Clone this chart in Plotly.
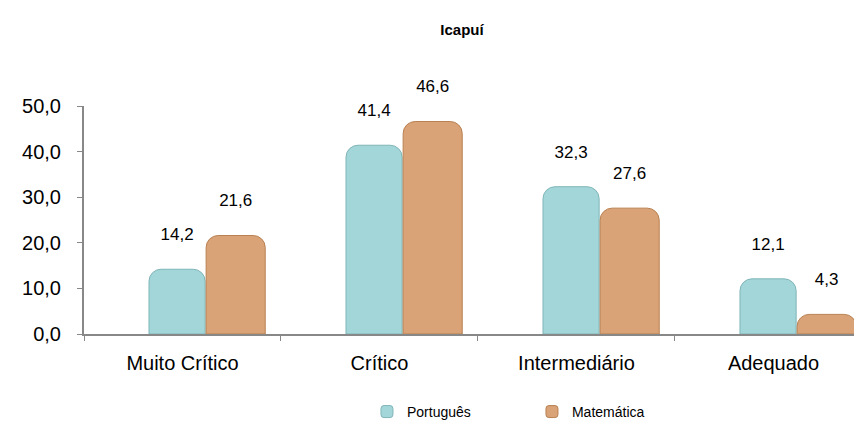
import plotly.graph_objects as go

categories = ["Muito Crítico", "Crítico", "Intermediário", "Adequado"]
portugues = [14.2, 41.4, 32.3, 12.1]
matematica = [21.6, 46.6, 27.6, 4.3]
series_names = ["Português", "Matemática"]
y_ticks = [0, 10, 20, 30, 40, 50]
title_text = "Icapuí"

FONT = "Liberation Sans, Arial, sans-serif"
BODY = 8  # default page body margin in the browser

fig = go.Figure()
fig.add_trace(go.Bar(
    x=categories, y=portugues, name=series_names[0],
    width=0.285, offset=-0.17,
    marker=dict(color="#A3D6D8", line=dict(color="#7FB5B8", width=1), cornerradius=12),
    texttemplate="%{y:.1f}<br> ", textposition="outside",
    textfont=dict(family=FONT, size=17, color="#000"),
    cliponaxis=False,
))
fig.add_trace(go.Bar(
    x=categories, y=matematica, name=series_names[1],
    width=0.30, offset=0.12,
    marker=dict(color="#D9A377", line=dict(color="#B98152", width=1), cornerradius=12),
    texttemplate="%{y:.1f}<br> ", textposition="outside",
    textfont=dict(family=FONT, size=17, color="#000"),
    cliponaxis=False,
))

fig.update_layout(
    width=862, height=428,
    margin=dict(l=84 - BODY, r=0, t=106 - BODY, b=94 + BODY),
    paper_bgcolor="white", plot_bgcolor="white",
    separators=",.",
    barmode="overlay",
    showlegend=True,
    title=dict(text="<b>" + title_text + "</b>", x=(462 - BODY) / 862, xanchor="center",
               y=1 - (30 - BODY) / 428, yanchor="middle",
               font=dict(family=FONT, size=15, color="#000")),
    font=dict(family=FONT, color="#000"),
    legend=dict(orientation="h", x=0.36, xanchor="left", y=-0.342, yanchor="middle",
                font=dict(family=FONT, size=14, color="#000"), entrywidth=120,
                itemwidth=30),
    xaxis=dict(type="category", range=[-0.5, 3.49], tickson="boundaries",
               ticks="outside", ticklen=5, tickcolor="#888",
               showline=True, linecolor="#888", linewidth=2,
               showgrid=False, tickfont=dict(family=FONT, size=20, color="#000"),
               ticklabelstandoff=10),
    yaxis=dict(range=[0, 50], tickvals=y_ticks, tickformat=".1f",
               ticks="outside", ticklen=5, tickcolor="#888",
               showline=True, linecolor="#888", linewidth=2,
               showgrid=False, zeroline=False,
               tickfont=dict(family=FONT, size=20, color="#000"),
               ticklabelstandoff=12),
)

fig.write_html("out.html")
